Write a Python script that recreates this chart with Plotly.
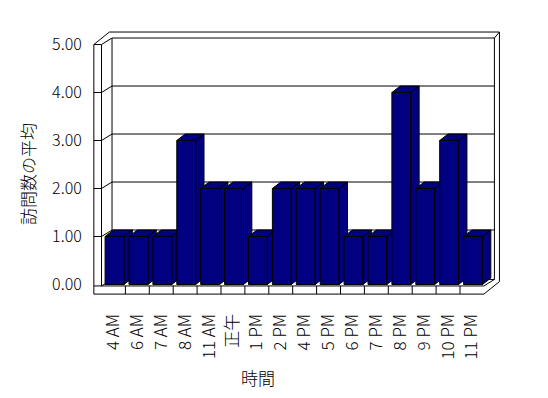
import plotly.graph_objects as go

# ---- data ----
categories = ["4 AM", "6 AM", "7 AM", "8 AM", "11 AM", "正午", "1 PM", "2 PM",
              "4 PM", "5 PM", "6 PM", "7 PM", "8 PM", "9 PM", "10 PM", "11 PM"]
values = [1, 1, 1, 3, 2, 2, 1, 2, 2, 2, 1, 1, 4, 2, 3, 1]
y_tick_values = [0, 1, 2, 3, 4, 5]
y_tick_labels = ["0.00", "1.00", "2.00", "3.00", "4.00", "5.00"]
x_title = "時間"
y_title = "訪問数の平均"

# ---- style / geometry constants (data units) ----
FONT = "Noto Sans CJK JP, Noto Sans, sans-serif"
NAVY = "#000080"
YMAX = 5
n = len(categories)
x_in = -0.5                 # inner front edge of left wall
x_out = x_in - 0.32         # outer front edge of left wall
x_r = n - 0.5               # right front edge of floor
DXW, DYW = 0.44, 0.135      # wall depth
TXB, TYB = 0.21, 0.125      # back wall thickness
yf, yb = -0.03, -0.2        # floor top / bottom
BAR_OFF, BAR_W = 0.15, 0.79
DXB, DYB = 0.35, 0.135      # bar depth

fig = go.Figure()


def line(xs, ys, width=1):
    fig.add_trace(go.Scatter(x=xs, y=ys, mode="lines",
                             line=dict(color="black", width=width),
                             hoverinfo="skip", showlegend=False))


# outer outline of walls + floor
line([x_out, x_out, x_out + DXW + TXB, x_r + DXW + TXB, x_r + DXW + TXB, x_r, x_out],
     [yb, YMAX, YMAX + DYW + TYB, YMAX + DYW + TYB, yb + DYW + TYB, yb, yb])
# left wall front top and inner edge
line([x_out, x_in, x_in], [YMAX, YMAX, yf])
# back wall inner face
line([x_in, x_in + DXW, x_r + DXW, x_r + DXW, x_in + DXW, x_in + DXW],
     [YMAX, YMAX + DYW, YMAX + DYW, yf + DYW, yf + DYW, YMAX + DYW])
line([x_r + DXW, x_r + DXW + TXB], [YMAX + DYW, YMAX + DYW + TYB])
# floor top edge, right edge
line([x_out, x_r, x_r + DXW], [yf, yf, yf + DYW])
line([x_in, x_in + DXW], [yf, yf + DYW])
# floor ticks
for i in range(n - 1):
    line([i + 0.5, i + 0.5], [yf, yb])
# gridlines
for v in y_tick_values[1:-1]:
    line([x_out, x_in, x_in + DXW, x_r + DXW], [v, v, v + DYW, v + DYW])

# bars (front, top, side faces computed from the values)
for i, v in enumerate(values):
    xl = i - 0.5 + BAR_OFF
    xr = xl + BAR_W
    xs = [xr, xr, xr + DXB, xr + DXB, xr, None,
          xl, xr, xr + DXB, xl + DXB, xl, None,
          xl, xr, xr, xl, xl]
    ys = [0, v, v + DYB, DYB, 0, None,
          v, v, v + DYB, v + DYB, v, None,
          0, 0, v, v, 0]
    fig.add_trace(go.Scatter(x=xs, y=ys, mode="lines", fill="toself",
                             fillcolor=NAVY, line=dict(color="black", width=1),
                             hoverinfo="skip", showlegend=False))

OFF = 8                       # page body margin
W, H = 548 - OFF * 2, 398 - OFF * 2
L, R, T, B = 90, 505, 25, 300  # plot area in page pixels
sx, sy = 23.9, 48.0
fig.update_layout(
    width=W, height=H,
    margin=dict(l=L - OFF, r=W - (R - OFF), t=T - OFF, b=H - (B - OFF), pad=0,
                autoexpand=False),
    paper_bgcolor="white", plot_bgcolor="white",
    font=dict(family=FONT, size=15, color="black"),
    showlegend=False,
    xaxis=dict(range=[-0.5 - (101.5 - L) / sx, -0.5 + (R - 101.5) / sx],
               tickmode="array", tickvals=list(range(n)), ticktext=categories,
               tickangle=-90, showgrid=False, zeroline=False, showline=False,
               ticks="outside", ticklen=6, tickcolor="rgba(0,0,0,0)",
               automargin=False,
               tickfont=dict(family=FONT, size=17, color="black", weight=300),
               fixedrange=True),
    yaxis=dict(range=[(284.5 - B) / sy, (284.5 - T) / sy],
               tickmode="array", tickvals=y_tick_values, ticktext=y_tick_labels,
               showgrid=False, zeroline=False, showline=False,
               ticks="outside", ticklen=4, tickcolor="rgba(0,0,0,0)",
               automargin=False,
               tickfont=dict(family=FONT, size=16, color="black", weight=300),
               fixedrange=True),
    annotations=[
        dict(text=x_title, xref="paper", yref="paper",
             x=(258 - L) / (R - L), y=(B - 377) / (B - T),
             showarrow=False,
             font=dict(family=FONT, size=17, color="black", weight=300),
             xanchor="center", yanchor="middle"),
        dict(text=y_title, xref="paper", yref="paper",
             x=(28 - L) / (R - L), y=(B - 174) / (B - T), textangle=-90,
             showarrow=False,
             font=dict(family=FONT, size=17, color="black", weight=300),
             xanchor="center", yanchor="middle"),
    ],
)

fig.write_html("out.html")
